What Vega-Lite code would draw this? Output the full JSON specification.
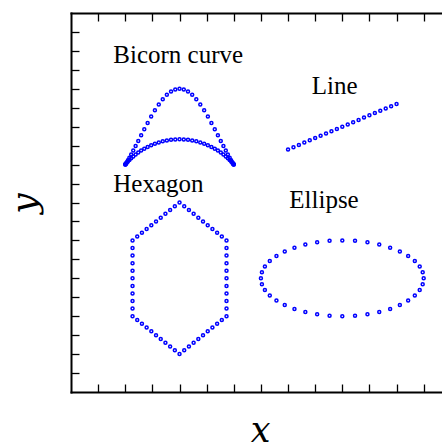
{
  "$schema": "https://vega.github.io/schema/vega-lite/v6.json",
  "width": 371,
  "height": 379,
  "autosize": {"type": "none"},
  "padding": {"left": 71, "top": 13, "right": 0, "bottom": 56},
  "background": "white",
  "config": {"view": {"stroke": null}, "font": "Liberation Serif"},
  "datasets": {
    "pts": [
      {"s":"bicorn","x":4,"y":16},{"s":"bicorn","x":4.1569,"y":15.9632},{"s":"bicorn","x":4.3129,"y":15.8547},{"s":"bicorn","x":4.4669,"y":15.6803},{"s":"bicorn","x":4.618,"y":15.4492},{"s":"bicorn","x":4.7654,"y":15.1727},{"s":"bicorn","x":4.908,"y":14.8635},{"s":"bicorn","x":5.045,"y":14.5345},{"s":"bicorn","x":5.1756,"y":14.1982},{"s":"bicorn","x":5.2989,"y":13.8658},{"s":"bicorn","x":5.4142,"y":13.5469},{"s":"bicorn","x":5.5208,"y":13.2492},{"s":"bicorn","x":5.618,"y":12.9786},{"s":"bicorn","x":5.7053,"y":12.7391},{"s":"bicorn","x":5.782,"y":12.5333},{"s":"bicorn","x":5.8478,"y":12.3622},{"s":"bicorn","x":5.9021,"y":12.2259},{"s":"bicorn","x":5.9447,"y":12.1234},{"s":"bicorn","x":5.9754,"y":12.0531},{"s":"bicorn","x":5.9938,"y":12.0128},{"s":"bicorn","x":6,"y":12},
      {"s":"bicorn","x":5.9938,"y":12.0118},{"s":"bicorn","x":5.9754,"y":12.0454},{"s":"bicorn","x":5.9447,"y":12.0976},{"s":"bicorn","x":5.9021,"y":12.1654},{"s":"bicorn","x":5.8478,"y":12.2459},{"s":"bicorn","x":5.782,"y":12.336},{"s":"bicorn","x":5.7053,"y":12.4329},{"s":"bicorn","x":5.618,"y":12.534},{"s":"bicorn","x":5.5208,"y":12.6368},{"s":"bicorn","x":5.4142,"y":12.7388},{"s":"bicorn","x":5.2989,"y":12.8379},{"s":"bicorn","x":5.1756,"y":12.932},{"s":"bicorn","x":5.045,"y":13.0194},{"s":"bicorn","x":4.908,"y":13.0984},{"s":"bicorn","x":4.7654,"y":13.1677},{"s":"bicorn","x":4.618,"y":13.226},{"s":"bicorn","x":4.4669,"y":13.2724},{"s":"bicorn","x":4.3129,"y":13.3061},{"s":"bicorn","x":4.1569,"y":13.3265},{"s":"bicorn","x":4,"y":13.3333},
      {"s":"bicorn","x":3.8431,"y":15.9632},{"s":"bicorn","x":3.6871,"y":15.8547},{"s":"bicorn","x":3.5331,"y":15.6803},{"s":"bicorn","x":3.382,"y":15.4492},{"s":"bicorn","x":3.2346,"y":15.1727},{"s":"bicorn","x":3.092,"y":14.8635},{"s":"bicorn","x":2.955,"y":14.5345},{"s":"bicorn","x":2.8244,"y":14.1982},{"s":"bicorn","x":2.7011,"y":13.8658},{"s":"bicorn","x":2.5858,"y":13.5469},{"s":"bicorn","x":2.4792,"y":13.2492},{"s":"bicorn","x":2.382,"y":12.9786},{"s":"bicorn","x":2.2947,"y":12.7391},{"s":"bicorn","x":2.218,"y":12.5333},{"s":"bicorn","x":2.1522,"y":12.3622},{"s":"bicorn","x":2.0979,"y":12.2259},{"s":"bicorn","x":2.0553,"y":12.1234},{"s":"bicorn","x":2.0246,"y":12.0531},{"s":"bicorn","x":2.0062,"y":12.0128},{"s":"bicorn","x":2,"y":12},
      {"s":"bicorn","x":2.0062,"y":12.0118},{"s":"bicorn","x":2.0246,"y":12.0454},{"s":"bicorn","x":2.0553,"y":12.0976},{"s":"bicorn","x":2.0979,"y":12.1654},{"s":"bicorn","x":2.1522,"y":12.2459},{"s":"bicorn","x":2.218,"y":12.336},{"s":"bicorn","x":2.2947,"y":12.4329},{"s":"bicorn","x":2.382,"y":12.534},{"s":"bicorn","x":2.4792,"y":12.6368},{"s":"bicorn","x":2.5858,"y":12.7388},{"s":"bicorn","x":2.7011,"y":12.8379},{"s":"bicorn","x":2.8244,"y":12.932},{"s":"bicorn","x":2.955,"y":13.0194},{"s":"bicorn","x":3.092,"y":13.0984},{"s":"bicorn","x":3.2346,"y":13.1677},{"s":"bicorn","x":3.382,"y":13.226},{"s":"bicorn","x":3.5331,"y":13.2724},{"s":"bicorn","x":3.6871,"y":13.3061},{"s":"bicorn","x":3.8431,"y":13.3265},
      {"s":"line","x":8,"y":12.8},{"s":"line","x":8.2,"y":12.92},{"s":"line","x":8.4,"y":13.04},{"s":"line","x":8.6,"y":13.16},{"s":"line","x":8.8,"y":13.28},{"s":"line","x":9,"y":13.4},{"s":"line","x":9.2,"y":13.52},{"s":"line","x":9.4,"y":13.64},{"s":"line","x":9.6,"y":13.76},{"s":"line","x":9.8,"y":13.88},{"s":"line","x":10,"y":14},{"s":"line","x":10.2,"y":14.12},{"s":"line","x":10.4,"y":14.24},{"s":"line","x":10.6,"y":14.36},{"s":"line","x":10.8,"y":14.48},{"s":"line","x":11,"y":14.6},{"s":"line","x":11.2,"y":14.72},{"s":"line","x":11.4,"y":14.84},{"s":"line","x":11.6,"y":14.96},{"s":"line","x":11.8,"y":15.08},{"s":"line","x":12,"y":15.2},
      {"s":"hexagon","x":4,"y":10},{"s":"hexagon","x":4.1732,"y":9.8},{"s":"hexagon","x":4.3464,"y":9.6},{"s":"hexagon","x":4.5196,"y":9.4},{"s":"hexagon","x":4.6928,"y":9.2},{"s":"hexagon","x":4.866,"y":9},{"s":"hexagon","x":5.0392,"y":8.8},{"s":"hexagon","x":5.2124,"y":8.6},{"s":"hexagon","x":5.3856,"y":8.4},{"s":"hexagon","x":5.5588,"y":8.2},
      {"s":"hexagon","x":5.7321,"y":8},{"s":"hexagon","x":5.7321,"y":7.6},{"s":"hexagon","x":5.7321,"y":7.2},{"s":"hexagon","x":5.7321,"y":6.8},{"s":"hexagon","x":5.7321,"y":6.4},{"s":"hexagon","x":5.7321,"y":6},{"s":"hexagon","x":5.7321,"y":5.6},{"s":"hexagon","x":5.7321,"y":5.2},{"s":"hexagon","x":5.7321,"y":4.8},{"s":"hexagon","x":5.7321,"y":4.4},
      {"s":"hexagon","x":5.7321,"y":4},{"s":"hexagon","x":5.5588,"y":3.8},{"s":"hexagon","x":5.3856,"y":3.6},{"s":"hexagon","x":5.2124,"y":3.4},{"s":"hexagon","x":5.0392,"y":3.2},{"s":"hexagon","x":4.866,"y":3},{"s":"hexagon","x":4.6928,"y":2.8},{"s":"hexagon","x":4.5196,"y":2.6},{"s":"hexagon","x":4.3464,"y":2.4},{"s":"hexagon","x":4.1732,"y":2.2},
      {"s":"hexagon","x":4,"y":2},{"s":"hexagon","x":3.8268,"y":2.2},{"s":"hexagon","x":3.6536,"y":2.4},{"s":"hexagon","x":3.4804,"y":2.6},{"s":"hexagon","x":3.3072,"y":2.8},{"s":"hexagon","x":3.134,"y":3},{"s":"hexagon","x":2.9608,"y":3.2},{"s":"hexagon","x":2.7876,"y":3.4},{"s":"hexagon","x":2.6144,"y":3.6},{"s":"hexagon","x":2.4412,"y":3.8},
      {"s":"hexagon","x":2.2679,"y":4},{"s":"hexagon","x":2.2679,"y":4.4},{"s":"hexagon","x":2.2679,"y":4.8},{"s":"hexagon","x":2.2679,"y":5.2},{"s":"hexagon","x":2.2679,"y":5.6},{"s":"hexagon","x":2.2679,"y":6},{"s":"hexagon","x":2.2679,"y":6.4},{"s":"hexagon","x":2.2679,"y":6.8},{"s":"hexagon","x":2.2679,"y":7.2},{"s":"hexagon","x":2.2679,"y":7.6},
      {"s":"hexagon","x":2.2679,"y":8},{"s":"hexagon","x":2.4412,"y":8.2},{"s":"hexagon","x":2.6144,"y":8.4},{"s":"hexagon","x":2.7876,"y":8.6},{"s":"hexagon","x":2.9608,"y":8.8},{"s":"hexagon","x":3.134,"y":9},{"s":"hexagon","x":3.3072,"y":9.2},{"s":"hexagon","x":3.4804,"y":9.4},{"s":"hexagon","x":3.6536,"y":9.6},{"s":"hexagon","x":3.8268,"y":9.8},
      {"s":"ellipse","x":13,"y":6},{"s":"ellipse","x":12.9631,"y":6.3129},{"s":"ellipse","x":12.8532,"y":6.618},{"s":"ellipse","x":12.673,"y":6.908},{"s":"ellipse","x":12.4271,"y":7.1756},{"s":"ellipse","x":12.1213,"y":7.4142},{"s":"ellipse","x":11.7634,"y":7.618},{"s":"ellipse","x":11.362,"y":7.782},{"s":"ellipse","x":10.9271,"y":7.9021},{"s":"ellipse","x":10.4693,"y":7.9754},
      {"s":"ellipse","x":10,"y":8},{"s":"ellipse","x":9.5307,"y":7.9754},{"s":"ellipse","x":9.0729,"y":7.9021},{"s":"ellipse","x":8.638,"y":7.782},{"s":"ellipse","x":8.2366,"y":7.618},{"s":"ellipse","x":7.8787,"y":7.4142},{"s":"ellipse","x":7.5729,"y":7.1756},{"s":"ellipse","x":7.327,"y":6.908},{"s":"ellipse","x":7.1468,"y":6.618},{"s":"ellipse","x":7.0369,"y":6.3129},
      {"s":"ellipse","x":7,"y":6},{"s":"ellipse","x":7.0369,"y":5.6871},{"s":"ellipse","x":7.1468,"y":5.382},{"s":"ellipse","x":7.327,"y":5.092},{"s":"ellipse","x":7.5729,"y":4.8244},{"s":"ellipse","x":7.8787,"y":4.5858},{"s":"ellipse","x":8.2366,"y":4.382},{"s":"ellipse","x":8.638,"y":4.218},{"s":"ellipse","x":9.0729,"y":4.0979},{"s":"ellipse","x":9.5307,"y":4.0246},
      {"s":"ellipse","x":10,"y":4},{"s":"ellipse","x":10.4693,"y":4.0246},{"s":"ellipse","x":10.9271,"y":4.0979},{"s":"ellipse","x":11.362,"y":4.218},{"s":"ellipse","x":11.7634,"y":4.382},{"s":"ellipse","x":12.1213,"y":4.5858},{"s":"ellipse","x":12.4271,"y":4.8244},{"s":"ellipse","x":12.673,"y":5.092},{"s":"ellipse","x":12.8532,"y":5.382},{"s":"ellipse","x":12.9631,"y":5.6871}
    ],
    "labels": [
      {"label": "Bicorn curve", "x": 1.559, "y": 17.377},
      {"label": "Line", "x": 8.872, "y": 15.71},
      {"label": "Hexagon", "x": 1.559, "y": 10.57},
      {"label": "Ellipse", "x": 8.046, "y": 9.726}
    ]
  },
  "layer": [
    {
      "data": {"name": "pts"},
      "mark": {"type": "point", "shape": "circle", "filled": false, "color": "#0000ff", "opacity": 1, "size": 9, "strokeWidth": 1.5},
      "encoding": {
        "x": {"field": "x", "type": "quantitative", "scale": {"domain": [0, 13.675], "nice": false, "zero": false},
          "axis": {"orient": "bottom", "values": [1,2,3,4,5,6,7,8,9,10,11,12,13], "labels": false, "grid": false,
            "tickSize": -8, "tickWidth": 1.3, "tickColor": "black", "domain": true, "domainWidth": 2, "domainColor": "black", "domainCap": "square",
            "title": "x", "titleFont": "DejaVu Serif", "titleFontStyle": "italic", "titleFontWeight": "normal", "titleFontSize": 35, "titleColor": "black",
            "titleX": 189, "titleY": 49, "titleBaseline": "alphabetic", "titleAlign": "center"}},
        "y": {"field": "y", "type": "quantitative", "scale": {"domain": [0, 20], "nice": false, "zero": false},
          "axis": {"orient": "left", "values": [1,2,3,4,5,6,7,8,9,10,11,12,13,14,15,16,17,18,19], "labels": false, "grid": false,
            "tickSize": -8, "tickWidth": 1.3, "tickColor": "black", "domain": true, "domainWidth": 2, "domainColor": "black", "domainCap": "square",
            "title": "y", "titleFont": "DejaVu Serif", "titleFontStyle": "italic", "titleFontWeight": "normal", "titleFontSize": 36, "titleColor": "black",
            "titleX": -36, "titleY": 190, "titleAngle": -90, "titleBaseline": "alphabetic", "titleAlign": "center"}}
      }
    },
    {
      "data": {"name": "labels"},
      "mark": {"type": "text", "align": "left", "baseline": "alphabetic", "fontSize": 25, "font": "Liberation Serif", "color": "black"},
      "encoding": {
        "x": {"field": "x", "type": "quantitative", "scale": {"domain": [0, 13.675], "nice": false, "zero": false},
          "axis": {"orient": "top", "values": [1,2,3,4,5,6,7,8,9,10,11,12,13], "labels": false, "grid": false,
            "tickSize": -8, "tickWidth": 1.3, "tickColor": "black", "domain": true, "domainWidth": 2, "domainColor": "black", "domainCap": "square", "title": null}},
        "y": {"field": "y", "type": "quantitative", "scale": {"domain": [0, 20], "nice": false, "zero": false}, "axis": null},
        "text": {"field": "label"}
      }
    }
  ],
  "resolve": {"axis": {"x": "independent", "y": "independent"}}
}
